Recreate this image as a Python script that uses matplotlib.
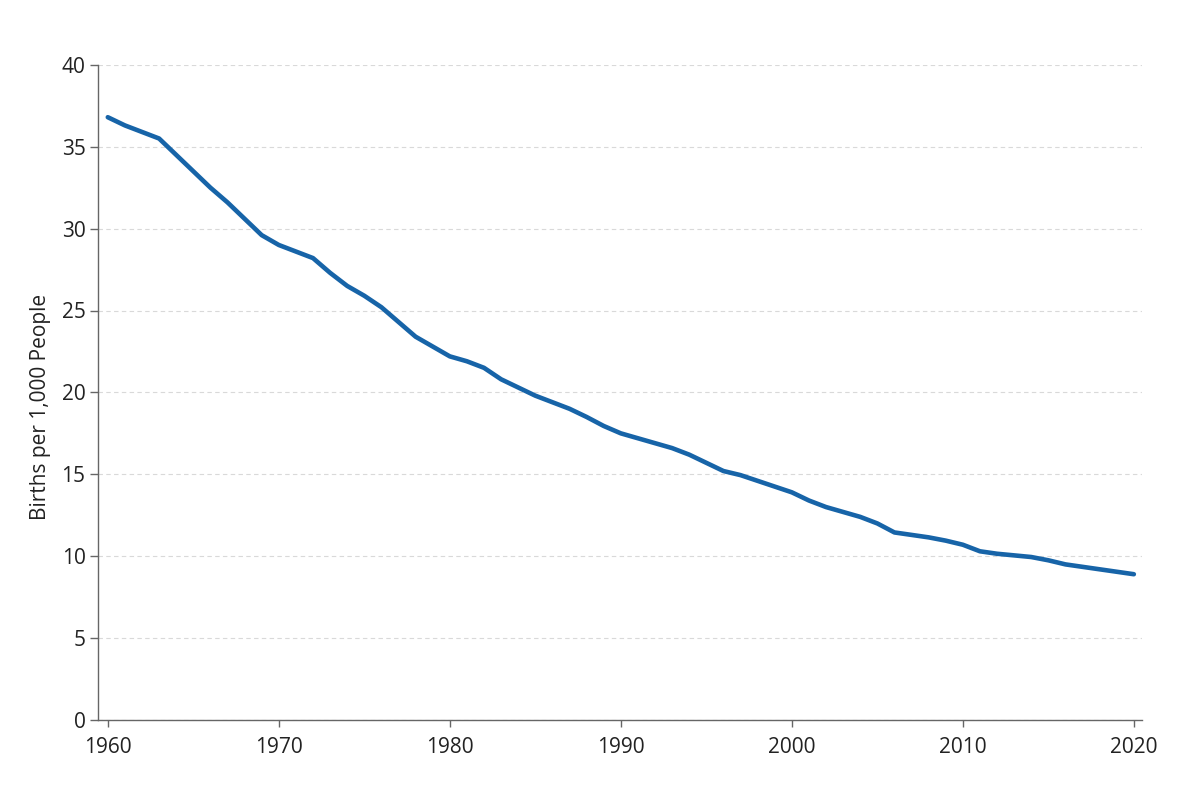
import matplotlib
matplotlib.use('Agg')
import matplotlib.pyplot as plt
import numpy as np

# crude birth rate, births per 1,000 people
years = list(range(1960, 2021))
birth_rate = [
    36.8, 36.3, 35.9, 35.5, 34.5, 33.5, 32.5, 31.6, 30.6, 29.6,   # 1960s
    29.0, 28.6, 28.2, 27.3, 26.5, 25.9, 25.2, 24.3, 23.4, 22.8,   # 1970s
    22.2, 21.9, 21.5, 20.8, 20.3, 19.8, 19.4, 19.0, 18.5, 17.95,  # 1980s
    17.5, 17.2, 16.9, 16.6, 16.2, 15.7, 15.2, 14.95, 14.6, 14.25, # 1990s
    13.9, 13.4, 13.0, 12.7, 12.4, 12.0, 11.45, 11.3, 11.15, 10.95,# 2000s
    10.7, 10.3, 10.15, 10.05, 9.95, 9.75, 9.5, 9.35, 9.2, 9.05,   # 2010s
    8.9,                                                          # 2020
]
x_ticks = [1960, 1970, 1980, 1990, 2000, 2010, 2020]
y_ticks = [0, 5, 10, 15, 20, 25, 30, 35, 40]

plt.rcParams['font.family'] = ['Open Sans', 'DejaVu Sans']

fig = plt.figure(figsize=(12, 8), dpi=100)
ax = fig.add_axes([0.0817, 0.1, 0.8703, 0.819])

ax.plot(years, birth_rate, color='#1764a8', lw=3.3, solid_capstyle='round',
        solid_joinstyle='round', zorder=3)

ax.set_xlim(1959.43, 2020.5)
ax.set_ylim(0, 40)
ax.set_xticks(x_ticks)
ax.set_yticks(y_ticks)

for side in ['top', 'right']:
    ax.spines[side].set_visible(False)
for side in ['left', 'bottom']:
    ax.spines[side].set_color('#666666')
    ax.spines[side].set_linewidth(1.0)

ax.tick_params(axis='y', length=6, width=1, color='#666666', labelsize=15,
               labelcolor='#222222', pad=3)
ax.tick_params(axis='x', length=5, width=1, color='#666666', labelsize=15,
               labelcolor='#222222', pad=7)

ax.yaxis.grid(True, linestyle=(0, (4, 3)), color='#d9d9d9', linewidth=0.8)
ax.set_axisbelow(True)

ax.set_ylabel('Births per 1,000 People', fontsize=15, color='#222222')
ax.yaxis.set_label_coords(-0.045, 0.478)

fig.savefig('out.png', dpi=100, facecolor='white')
